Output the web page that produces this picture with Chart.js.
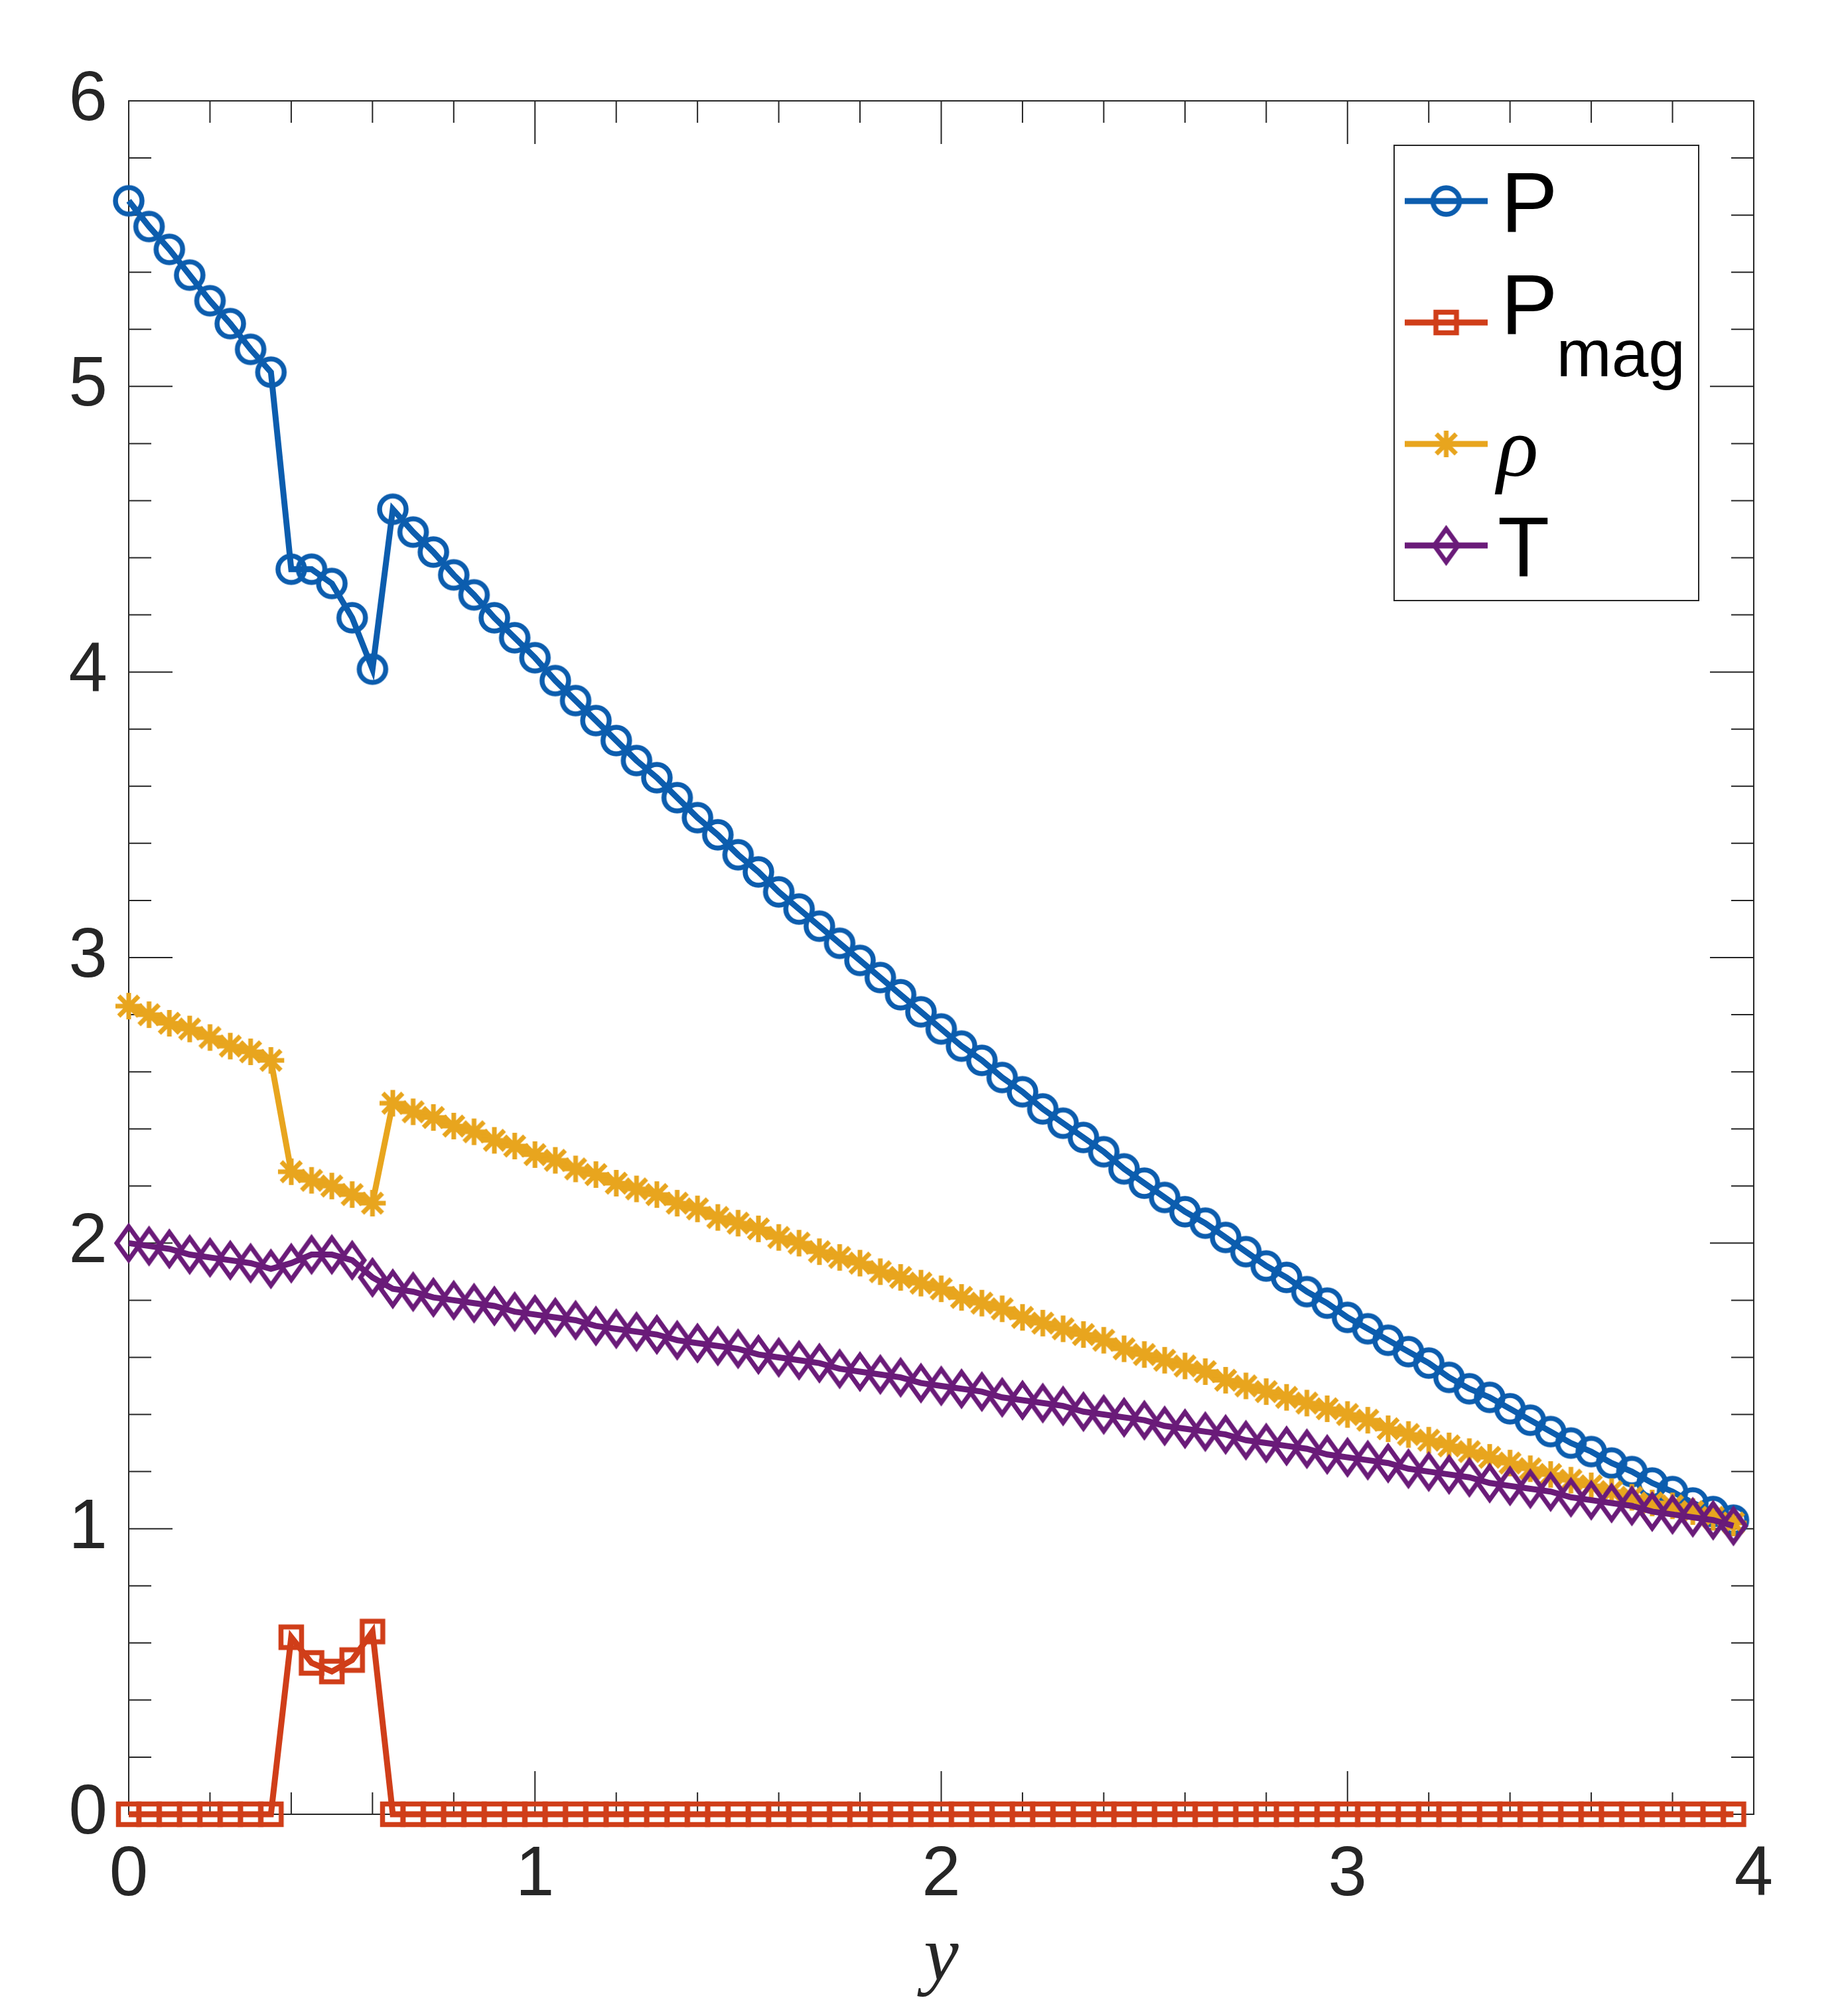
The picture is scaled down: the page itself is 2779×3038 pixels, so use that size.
<!DOCTYPE html>
<html lang="en">
<head>
  <meta charset="UTF-8">
  <title>Profiles along y</title>
  <style>
    html, body { margin: 0; padding: 0; background: #fff; }
    #profileChart { display: block; }
  </style>
</head>
<body>
  <canvas id="profileChart" width="2779" height="3038"></canvas>

  <!-- Chart JS -->
  <script src="https://cdn.jsdelivr.net/npm/chart.js"></script>

  <script>
    // ---- data (y = 0 .. 3.95) ----
    const yPositions = [
      0.00, 0.05, 0.10, 0.15, 0.20, 0.25, 0.30, 0.35, 0.40, 0.45,
      0.50, 0.55, 0.60, 0.65, 0.70, 0.75, 0.80, 0.85, 0.90, 0.95,
      1.00, 1.05, 1.10, 1.15, 1.20, 1.25, 1.30, 1.35, 1.40, 1.45,
      1.50, 1.55, 1.60, 1.65, 1.70, 1.75, 1.80, 1.85, 1.90, 1.95,
      2.00, 2.05, 2.10, 2.15, 2.20, 2.25, 2.30, 2.35, 2.40, 2.45,
      2.50, 2.55, 2.60, 2.65, 2.70, 2.75, 2.80, 2.85, 2.90, 2.95,
      3.00, 3.05, 3.10, 3.15, 3.20, 3.25, 3.30, 3.35, 3.40, 3.45,
      3.50, 3.55, 3.60, 3.65, 3.70, 3.75, 3.80, 3.85, 3.90, 3.95
    ];

    const pressure = [
      5.65, 5.56, 5.48, 5.39, 5.30, 5.22, 5.13, 5.05, 4.36, 4.36,
      4.31, 4.19, 4.01, 4.57, 4.49, 4.42, 4.34, 4.27, 4.19, 4.12,
      4.05, 3.97, 3.90, 3.83, 3.76, 3.69, 3.63, 3.56, 3.49, 3.43,
      3.36, 3.30, 3.23, 3.17, 3.11, 3.05, 2.99, 2.93, 2.87, 2.81,
      2.75, 2.69, 2.64, 2.58, 2.53, 2.47, 2.42, 2.37, 2.32, 2.26,
      2.21, 2.16, 2.11, 2.07, 2.02, 1.97, 1.92, 1.88, 1.83, 1.79,
      1.74, 1.70, 1.66, 1.62, 1.58, 1.53, 1.49, 1.46, 1.42, 1.38,
      1.34, 1.30, 1.27, 1.23, 1.20, 1.16, 1.13, 1.09, 1.06, 1.03
    ];

    const magPressure = [
      0, 0, 0, 0, 0, 0, 0, 0, 0.62, 0.53,
      0.50, 0.54, 0.64, 0, 0, 0, 0, 0, 0, 0,
      0, 0, 0, 0, 0, 0, 0, 0, 0, 0,
      0, 0, 0, 0, 0, 0, 0, 0, 0, 0,
      0, 0, 0, 0, 0, 0, 0, 0, 0, 0,
      0, 0, 0, 0, 0, 0, 0, 0, 0, 0,
      0, 0, 0, 0, 0, 0, 0, 0, 0, 0,
      0, 0, 0, 0, 0, 0, 0, 0, 0, 0
    ];

    const density = [
      2.83, 2.80, 2.77, 2.75, 2.72, 2.69, 2.67, 2.64, 2.25, 2.22,
      2.20, 2.17, 2.14, 2.49, 2.46, 2.44, 2.41, 2.39, 2.36, 2.34,
      2.31, 2.29, 2.26, 2.24, 2.21, 2.19, 2.17, 2.14, 2.12, 2.09,
      2.07, 2.05, 2.02, 2.00, 1.97, 1.95, 1.93, 1.90, 1.88, 1.86,
      1.84, 1.81, 1.79, 1.77, 1.74, 1.72, 1.70, 1.68, 1.66, 1.63,
      1.61, 1.59, 1.57, 1.55, 1.52, 1.50, 1.48, 1.46, 1.44, 1.42,
      1.40, 1.38, 1.35, 1.33, 1.31, 1.29, 1.27, 1.25, 1.23, 1.21,
      1.19, 1.17, 1.15, 1.13, 1.11, 1.09, 1.08, 1.06, 1.04, 1.02
    ];

    const temperature = [
      2.00, 1.99, 1.98, 1.96, 1.95, 1.94, 1.93, 1.91, 1.93, 1.96,
      1.96, 1.94, 1.88, 1.84, 1.83, 1.81, 1.80, 1.79, 1.78, 1.76,
      1.75, 1.74, 1.73, 1.71, 1.70, 1.69, 1.68, 1.66, 1.65, 1.64,
      1.63, 1.61, 1.60, 1.59, 1.58, 1.56, 1.55, 1.54, 1.53, 1.51,
      1.50, 1.49, 1.48, 1.46, 1.45, 1.44, 1.43, 1.41, 1.40, 1.39,
      1.38, 1.36, 1.35, 1.34, 1.33, 1.31, 1.30, 1.29, 1.28, 1.26,
      1.25, 1.24, 1.23, 1.21, 1.20, 1.19, 1.18, 1.16, 1.15, 1.14,
      1.13, 1.11, 1.10, 1.09, 1.08, 1.06, 1.05, 1.04, 1.03, 1.01
    ];

    const xTicks = [0, 1, 2, 3, 4];
    const xTickLabels = ['0', '1', '2', '3', '4'];
    const yTicks = [0, 1, 2, 3, 4, 5, 6];
    const yTickLabels = ['0', '1', '2', '3', '4', '5', '6'];

    // ---- styling ----
    const axisColor = '#262626';
    const colors = {
      P: '#0c5dae',
      Pmag: '#d03e19',
      rho: '#e8a51e',
      T: '#6a1b79'
    };
    const lineW = 9;

    // marker images (open symbols, MATLAB look)
    function makeMarker(kind, color) {
      const c = document.createElement('canvas');
      let g;
      if (kind === 'circle') {
        c.width = 58; c.height = 58;
        g = c.getContext('2d');
        g.strokeStyle = color; g.lineWidth = 7.5;
        g.beginPath(); g.arc(29, 29, 20, 0, Math.PI * 2); g.stroke();
      } else if (kind === 'square') {
        c.width = 48; c.height = 48;
        g = c.getContext('2d');
        g.strokeStyle = color; g.lineWidth = 7.5; g.lineJoin = 'miter';
        g.strokeRect(24 - 15.5, 24 - 15.5, 31, 31);
      } else if (kind === 'star') {
        c.width = 50; c.height = 50;
        g = c.getContext('2d');
        g.strokeStyle = color; g.lineWidth = 7;
        const r = 20, d = 15;
        g.beginPath();
        g.moveTo(25, 25 - r); g.lineTo(25, 25 + r);
        g.moveTo(25 - r, 25); g.lineTo(25 + r, 25);
        g.moveTo(25 - d, 25 - d); g.lineTo(25 + d, 25 + d);
        g.moveTo(25 - d, 25 + d); g.lineTo(25 + d, 25 - d);
        g.stroke();
      } else if (kind === 'diamond') {
        c.width = 56; c.height = 74;
        g = c.getContext('2d');
        g.strokeStyle = color; g.lineWidth = 7; g.lineJoin = 'miter';
        g.beginPath();
        g.moveTo(28, 37 - 25); g.lineTo(28 + 18, 37);
        g.lineTo(28, 37 + 25); g.lineTo(28 - 18, 37);
        g.closePath(); g.stroke();
      }
      return c;
    }

    const markers = {
      P: makeMarker('circle', colors.P),
      Pmag: makeMarker('square', colors.Pmag),
      rho: makeMarker('star', colors.rho),
      T: makeMarker('diamond', colors.T)
    };

    const toPoints = vals => yPositions.map((x, i) => ({ x: x, y: vals[i] }));

    function series(label, vals, key, order) {
      return {
        label: label,
        data: toPoints(vals),
        borderColor: colors[key],
        backgroundColor: colors[key],
        borderWidth: lineW,
        pointStyle: markers[key],
        pointRadius: 20,
        pointHoverRadius: 20,
        tension: 0,
        fill: false,
        clip: false,
        order: order
      };
    }

    // box plus inward minor/major ticks on all four sides
    const axesFrame = {
      id: 'axesFrame',
      beforeDatasetsDraw(chart) {
        const { ctx, chartArea: a, scales: { x, y } } = chart;
        ctx.save();
        ctx.strokeStyle = axisColor;
        ctx.lineWidth = 2;
        ctx.beginPath();
        for (let i = 0; i <= 20; i++) {
          const px = x.getPixelForValue(i * 0.2);
          const len = i % 5 === 0 ? 65 : 33;
          ctx.moveTo(px, a.bottom); ctx.lineTo(px, a.bottom - len);
          ctx.moveTo(px, a.top); ctx.lineTo(px, a.top + len);
        }
        for (let i = 0; i <= 30; i++) {
          const py = y.getPixelForValue(i * 0.2);
          const len = i % 5 === 0 ? 66 : 34;
          ctx.moveTo(a.left, py); ctx.lineTo(a.left + len, py);
          ctx.moveTo(a.right, py); ctx.lineTo(a.right - len, py);
        }
        ctx.stroke();
        ctx.strokeRect(a.left, a.top, a.right - a.left, a.bottom - a.top);
        ctx.restore();
      }
    };

    // legend box, top right
    const legendBox = {
      id: 'legendBox',
      afterDraw(chart) {
        const { ctx, chartArea: a } = chart;
        const boxL = a.right - 542, boxT = a.top + 67, boxW = 459, boxH = 686;
        const lineL = boxL + 16, lineR = boxL + 141, textX = boxL + 161;
        const rows = [boxT + 84, boxT + 267, boxT + 450, boxT + 603];
        const keys = ['P', 'Pmag', 'rho', 'T'];

        ctx.save();
        ctx.fillStyle = '#ffffff';
        ctx.fillRect(boxL, boxT, boxW, boxH);
        ctx.strokeStyle = axisColor;
        ctx.lineWidth = 2;
        ctx.strokeRect(boxL, boxT, boxW, boxH);

        keys.forEach((k, i) => {
          const ry = rows[i];
          ctx.strokeStyle = colors[k];
          ctx.lineWidth = lineW;
          ctx.beginPath();
          ctx.moveTo(lineL, ry); ctx.lineTo(lineR, ry);
          ctx.stroke();
          const m = markers[k];
          ctx.drawImage(m, (lineL + lineR) / 2 - m.width / 2, ry - m.height / 2);
        });

        ctx.fillStyle = '#000000';
        ctx.textBaseline = 'alphabetic';
        ctx.textAlign = 'left';
        ctx.font = '128px "Liberation Sans"';
        ctx.fillText('P', textX, rows[0] + 46);
        ctx.fillText('P', textX, rows[1] + 17);
        const pw = ctx.measureText('P').width;
        ctx.fillText('T', textX - 5, rows[3] + 46);
        ctx.font = '100px "Liberation Sans"';
        ctx.fillText('mag', textX + pw - 2, rows[1] + 81);
        ctx.font = 'italic 130px "Liberation Serif"';
        ctx.fillText('\u03C1', textX - 6, rows[2] + 48);
        ctx.restore();
      }
    };

    const config = {
      type: 'line',
      data: {
        datasets: [
          series('P', pressure, 'P', 4),
          series('Pmag', magPressure, 'Pmag', 3),
          series('rho', density, 'rho', 2),
          series('T', temperature, 'T', 1)
        ]
      },
      options: {
        responsive: false,
        animation: false,
        devicePixelRatio: 1,
        events: [],
        layout: {
          padding: { left: 0, top: 152, right: 136, bottom: 0 }
        },
        plugins: {
          legend: { display: false },
          tooltip: { enabled: false }
        },
        scales: {
          x: {
            type: 'linear',
            position: 'bottom',
            min: 0,
            max: 4,
            afterBuildTicks: s => { s.ticks = xTicks.map(v => ({ value: v })); },
            afterFit: s => { s.height = 304; },
            grid: { display: false, drawTicks: false },
            border: { display: false },
            ticks: {
              autoSkip: false,
              maxRotation: 0,
              padding: 30,
              color: axisColor,
              font: { family: '"Liberation Sans"', size: 105 },
              callback: (v, i) => xTickLabels[i]
            },
            title: {
              display: true,
              text: 'y',
              color: axisColor,
              font: { family: '"Liberation Serif"', style: 'italic', size: 118 },
              padding: { top: 0, bottom: 14 }
            }
          },
          y: {
            type: 'linear',
            min: 0,
            max: 6,
            afterBuildTicks: s => { s.ticks = yTicks.map(v => ({ value: v })); },
            afterFit: s => { s.width = 194; },
            grid: { display: false, drawTicks: false },
            border: { display: false },
            ticks: {
              autoSkip: false,
              padding: 32,
              color: axisColor,
              font: { family: '"Liberation Sans"', size: 105 },
              callback: (v, i) => yTickLabels[i]
            }
          }
        }
      },
      plugins: [axesFrame, legendBox]
    };

    const profileChart = new Chart(
      document.getElementById('profileChart'),
      config
    );
  </script>
</body>
</html>
